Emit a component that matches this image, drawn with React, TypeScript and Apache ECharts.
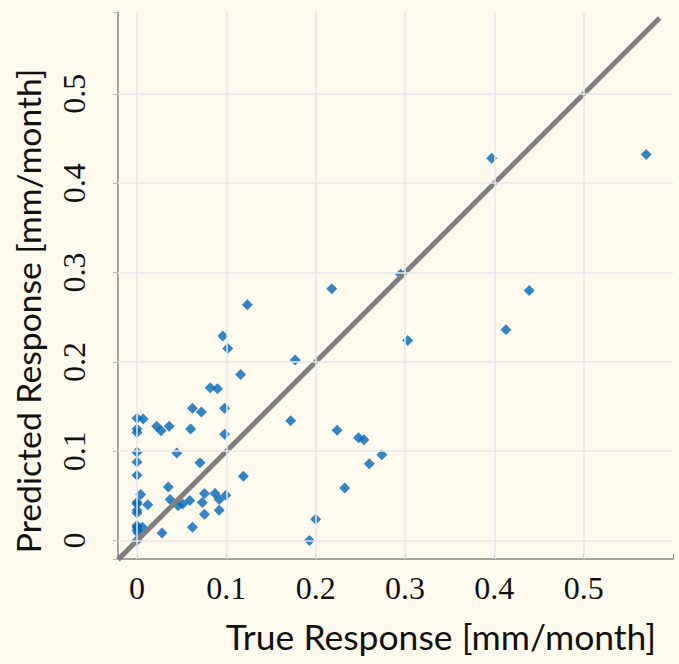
import React, { useEffect, useRef } from "react";
import * as echarts from "echarts";

const trueResp = [
  0.570, 0.397, 0.295, 0.439, 0.413, 0.303, 0.218, 0.1235, 0.096, 0.1015,
  0.177, 0.116, 0.082, 0.090, 0.062, 0.072, 0.098, 0.172, 0.224, 0.248,
  0.254, 0.274, 0.260, 0.2325, 0.200, 0.193, 0.119, 0.000, 0.007, 0.000,
  0.000, 0.022, 0.027, 0.036, 0.060, 0.000, 0.0445, 0.000, 0.000, 0.098,
  0.0705, 0.035, 0.004, 0.000, 0.000, 0.012, 0.000, 0.000, 0.037, 0.046,
  0.051, 0.059, 0.0755, 0.073, 0.0873, 0.092, 0.0995, 0.0755, 0.092, 0.062,
  0.028, 0.000, 0.000, 0.006, 0.000, 0.001, 0.000,
];
const predResp = [
  0.432, 0.428, 0.298, 0.280, 0.236, 0.224, 0.282, 0.264, 0.229, 0.215,
  0.202, 0.186, 0.171, 0.170, 0.148, 0.144, 0.148, 0.134, 0.1235, 0.115,
  0.113, 0.096, 0.086, 0.059, 0.024, 0.000, 0.072, 0.137, 0.136, 0.125,
  0.121, 0.128, 0.123, 0.128, 0.125, 0.099, 0.098, 0.088, 0.073, 0.119,
  0.087, 0.060, 0.0515, 0.043, 0.041, 0.040, 0.034, 0.031, 0.046, 0.039,
  0.041, 0.045, 0.0526, 0.0425, 0.0526, 0.046, 0.0507, 0.0295, 0.034, 0.015,
  0.0085, 0.017, 0.015, 0.015, 0.0115, 0.009, 0.000,
];
const gridTicks = [0, 0.1, 0.2, 0.3, 0.4, 0.5];
const diagonal = [-0.0213, 0.585];
const xTitle = "True Response [mm/month]";
const yTitle = "Predicted Response [mm/month]";

const BG = "#FFFAEE";

export default function App() {
  const ref = useRef<HTMLDivElement>(null);
  useEffect(() => {
    document.body.style.margin = "0";
    document.body.style.background = BG;
    const chart = echarts.init(ref.current!, null, { renderer: "svg" });
    const fmt = (v: number) => {
      const r = Math.round(v * 10);
      if (Math.abs(v * 10 - r) > 1e-6 || r < 0 || r > 5) return "";
      return r === 0 ? "0" : (r / 10).toFixed(1);
    };
    const points = trueResp.map((x, i) => [x, predResp[i]]);
    chart.setOption({
      animation: false,
      backgroundColor: BG,
      grid: { left: 118, top: 12, width: 555, height: 547, containLabel: false },
      xAxis: {
        type: "value",
        min: -0.0213,
        max: 0.6,
        splitNumber: 6,
        axisLine: { show: true, onZero: false, lineStyle: { color: "#858585", width: 1.5 } },
        axisTick: { show: true, inside: true, length: 5, lineStyle: { color: "#858585" } },
        axisLabel: {
          formatter: fmt,
          fontFamily: "Liberation Serif",
          fontSize: 32,
          color: "#111",
          margin: 13,
        },
        splitLine: { show: false },
      },
      yAxis: {
        type: "value",
        min: -0.0206,
        max: 0.5916,
        splitNumber: 6,
        axisLine: { show: true, onZero: false, lineStyle: { color: "#858585", width: 1.5 } },
        axisTick: { show: true, inside: false, length: 5, lineStyle: { color: "#bbb" } },
        axisLabel: {
          formatter: fmt,
          fontFamily: "Liberation Serif",
          fontSize: 32,
          color: "#111",
          rotate: 90,
          margin: 28,
        },
        splitLine: { show: false },
      },
      graphic: [
        {
          type: "text",
          x: 441,
          y: 636,
          style: {
            text: xTitle,
            font: "35.5px Lato",
            fill: "#111",
            textAlign: "center",
            textVerticalAlign: "middle",
          },
        },
        {
          type: "text",
          x: 28,
          y: 311,
          rotation: Math.PI / 2,
          style: {
            text: yTitle,
            font: "33.7px Lato",
            fill: "#111",
            textAlign: "center",
            textVerticalAlign: "middle",
          },
        },
      ],
      series: [
        {
          type: "line",
          data: [],
          z: 1,
          silent: true,
          markLine: {
            silent: true,
            symbol: ["none", "none"],
            label: { show: false },
            lineStyle: { color: "#E6E7EC", width: 1.5, type: "solid" },
            data: [
              ...gridTicks.map((v) => ({ xAxis: v })),
              ...gridTicks.map((v) => ({ yAxis: v })),
            ],
          },
        },
        {
          type: "scatter",
          z: 2,
          data: points,
          symbol: "diamond",
          symbolSize: [11, 11],
          itemStyle: { color: "#0068B8" },
        },
        {
          type: "line",
          z: 3,
          data: diagonal.map((v) => [v, v]),
          symbol: "none",
          clip: false,
          lineStyle: { color: "#7F7F7F", width: 5 },
        },
      ],
    });
    return () => chart.dispose();
  }, []);
  return <div ref={ref} style={{ width: 679, height: 664 }} />;
}
